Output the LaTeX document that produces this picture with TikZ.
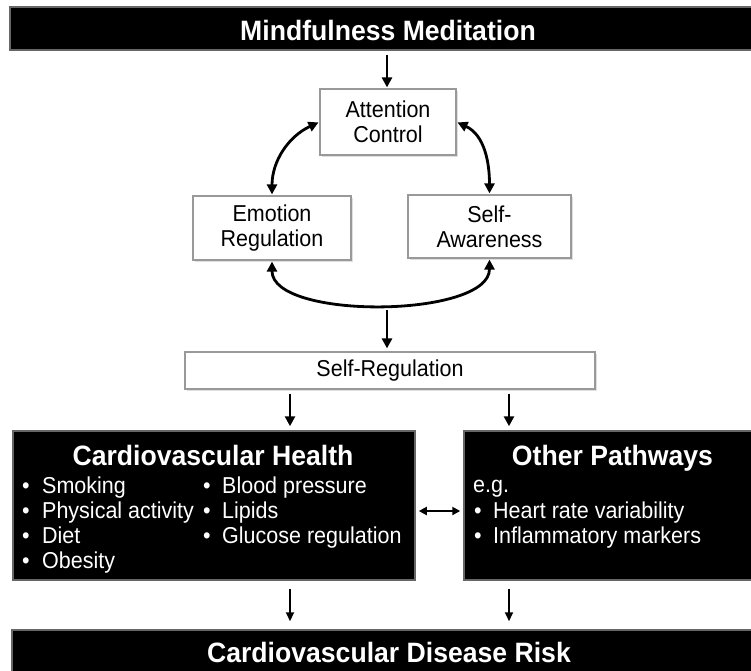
\documentclass[tikz,border=0pt]{standalone}
\usepackage{fontspec}
\setmainfont{Liberation Sans}
\newfontfamily\condsans[FakeStretch=0.935]{Liberation Sans}
\newfontfamily\condbold[FakeStretch=0.95]{Liberation Sans Bold}
\usetikzlibrary{arrows.meta,shadows}
\begin{document}
\begin{tikzpicture}[x=1pt,y=1pt,
  blk/.style={fill=black, draw=black!60, line width=1.5pt, inner sep=0pt},
  bartxt/.style={text=white, font=\condbold\fontsize{28}{30}\selectfont},
  wbox/.style={fill=white, draw=black!40, line width=1.2pt, inner sep=0pt, align=center,
    font=\condsans\fontsize{23}{25}\selectfont,
    drop shadow={opacity=0.25, shadow xshift=1.5pt, shadow yshift=-1.5pt}},
  ttl/.style={text=white, inner sep=0pt, anchor=base, font=\condbold\fontsize{28}{30}\selectfont},
  itm/.style={text=white, inner sep=0pt, anchor=base west, font=\condsans\fontsize{23}{25}\selectfont},
  arr/.style={-{Triangle[length=10pt,width=10pt]}, line width=2.8pt},
  darr/.style={{Triangle[length=10pt,width=10pt]}-{Triangle[length=10pt,width=10pt]}, line width=2.8pt},
  sarr/.style={-{Triangle[length=9pt,width=8pt]}, line width=2pt},
  dsarr/.style={{Triangle[length=8pt,width=8pt]}-{Triangle[length=8pt,width=8pt]}, line width=2.2pt}
]
\useasboundingbox (0,0) rectangle (751,-670);
\clip (0,0) rectangle (751,-670);

% bars
\node[blk, bartxt, minimum width=756pt, minimum height=43pt, text height=23pt, text depth=0pt] (mm) at (388,-28.5) {Mindfulness Meditation};
\node[blk, bartxt, minimum width=754pt, minimum height=48pt, text height=18pt, text depth=1pt] (cdr) at (389,-654) {Cardiovascular Disease Risk};

% white boxes
\node[wbox, minimum width=136pt, minimum height=66pt] (att) at (388,-122) {Attention\\Control};
\node[wbox, minimum width=158pt, minimum height=64pt] (emo) at (272,-228) {Emotion\\Regulation};
\node[wbox, minimum width=163pt, minimum height=63pt] (sa) at (489.5,-226.5) {Self-\\Awareness};
\node[wbox, minimum width=410pt, minimum height=37pt] (sr) at (390,-370.5) {Self-Regulation};

% black boxes
\node[blk, minimum width=402pt, minimum height=149pt] (cvh) at (214,-505.5) {};
\node[blk, minimum width=302pt, minimum height=149pt] (op) at (615,-505.5) {};

% CVH texts
\node[ttl] (cvht) at (213,-465) {Cardiovascular Health};
\node[itm] (l1) at (22,-493) {\makebox[20pt][l]{•}Smoking};
\node[itm] (l2) at (22,-518) {\makebox[20pt][l]{•}Physical activity};
\node[itm] (l3) at (22,-543) {\makebox[20pt][l]{•}Diet};
\node[itm] (l4) at (22,-568) {\makebox[20pt][l]{•}Obesity};
\node[itm] (r1) at (203,-493) {\makebox[19pt][l]{•}Blood pressure};
\node[itm] (r2) at (203,-518) {\makebox[19pt][l]{•}Lipids};
\node[itm] (r3) at (203,-543) {\makebox[19pt][l]{•}Glucose regulation};

% OP texts
\node[ttl] (opt) at (612.5,-465) {Other Pathways};
\node[itm] (o0) at (473,-492) {e.g.};
\node[itm] (o1) at (474,-518) {\makebox[19pt][l]{•}Heart rate variability};
\node[itm] (o2) at (474,-543) {\makebox[19pt][l]{•}Inflammatory markers};

% helper coordinates
\coordinate (xl) at (290,0);
\coordinate (xr) at (509,0);
\coordinate (xm) at (387,0);
\coordinate (ym) at (0,-511);
\coordinate (c1) at (387,-310);

% connectors
\draw[arr, shorten <=4pt, shorten >=1pt] (mm.south -| xm) -- (att.north -| xm);
\draw[darr, shorten <=1pt, shorten >=1pt] (att.west) to[out=205,in=90] (emo.north);
\draw[darr, shorten <=1pt, shorten >=1pt] (att.east) to[out=-25,in=90] (sa.north);
\draw[darr, shorten <=1pt, shorten >=1pt] (emo.south) to[out=-90,in=-90,looseness=0.7] (sa.south);
\draw[arr, shorten >=3pt] (c1) -- (sr.north -| c1);
\draw[arr, shorten <=4pt, shorten >=4pt] (sr.south -| xl) -- (cvh.north -| xl);
\draw[arr, shorten <=4pt, shorten >=4pt] (sr.south -| xr) -- (op.north -| xr);
\draw[dsarr, shorten <=3pt, shorten >=3pt] (cvh.east |- ym) -- (op.west |- ym);
\draw[sarr, shorten <=8pt, shorten >=8pt] (cvh.south -| xl) -- (cdr.north -| xl);
\draw[sarr, shorten <=8pt, shorten >=8pt] (op.south -| xr) -- (cdr.north -| xr);
\end{tikzpicture}
\end{document}
